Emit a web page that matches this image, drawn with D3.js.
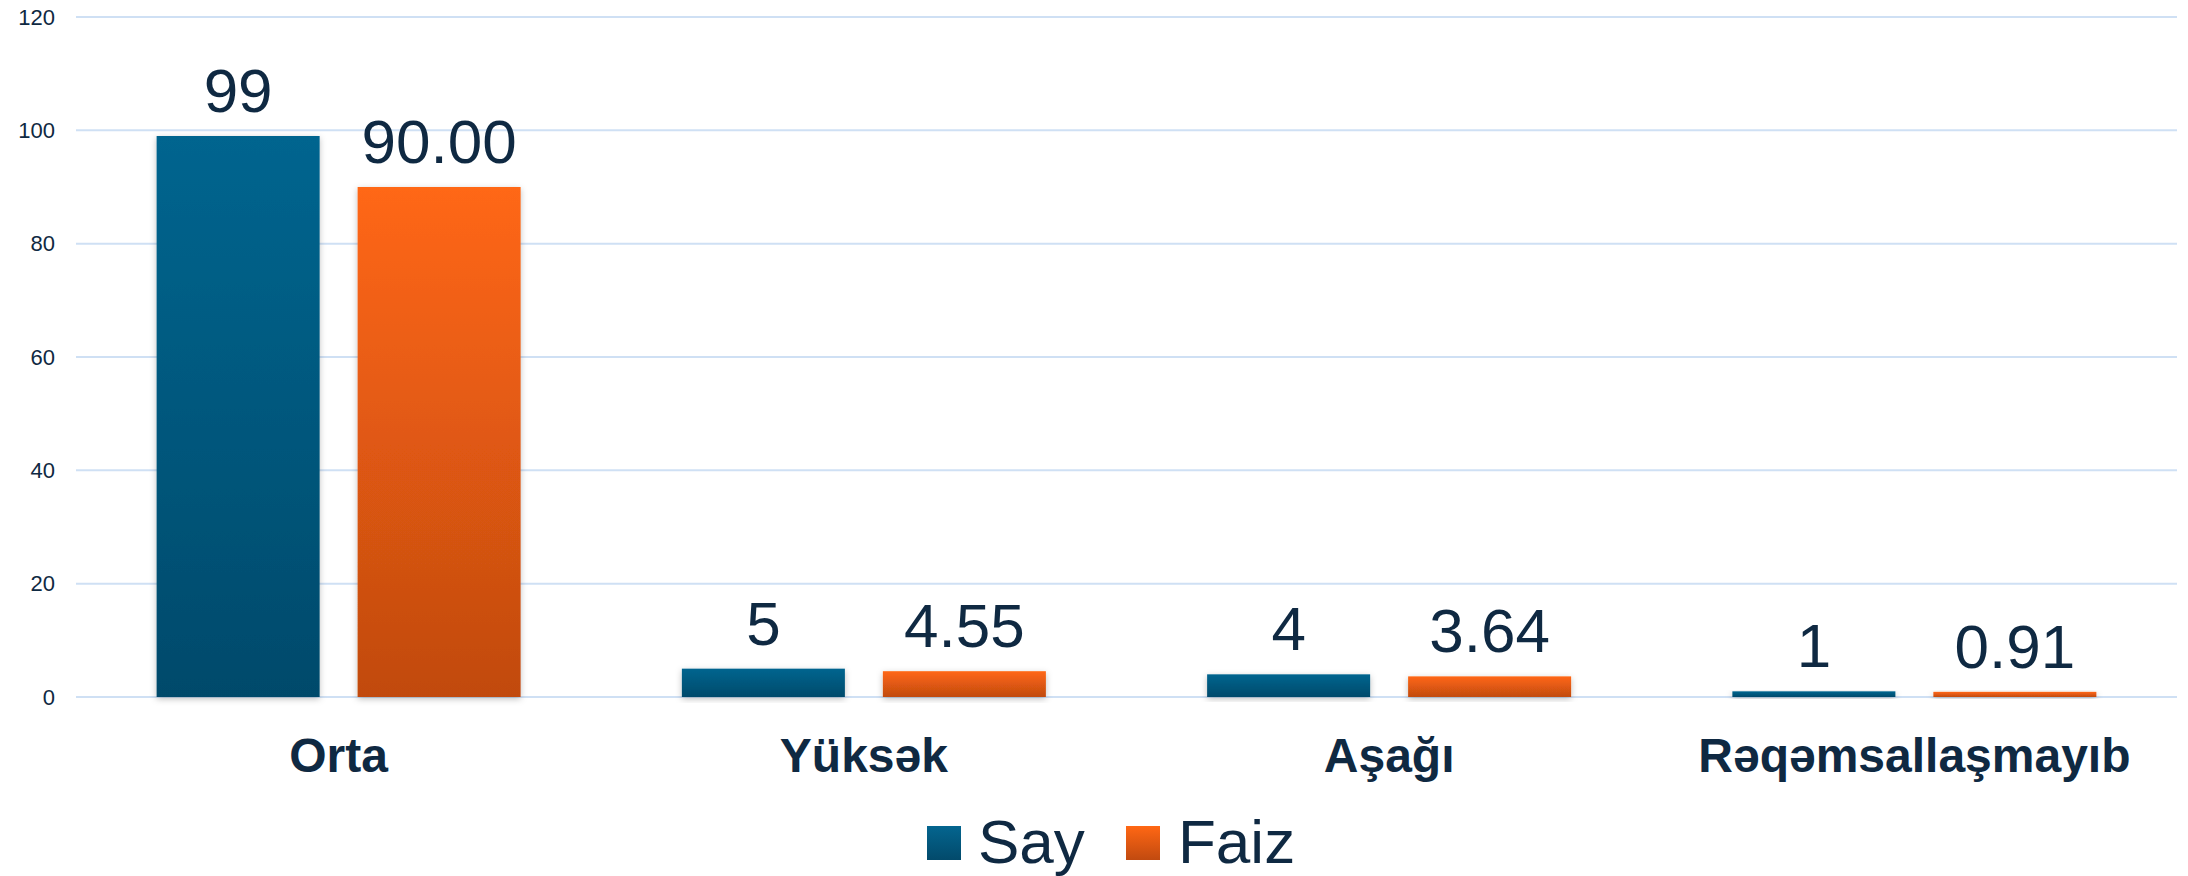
<!DOCTYPE html>
<html>
<head>
<meta charset="utf-8">
<script src="https://cdn.jsdelivr.net/npm/d3@7"></script>
<style>
  html, body { margin: 0; padding: 0; background: #ffffff; }
  svg { display: block; }
  text { font-family: "Liberation Sans", Arial, sans-serif; }
</style>
</head>
<body>
<svg id="chart" width="2188" height="876"></svg>
<script>
// ---- data ----
const categories = ["Orta", "Yüksək", "Aşağı", "Rəqəmsallaşmayıb"];
const seriesNames = ["Say", "Faiz"];
const sayValues = [99, 5, 4, 1];
const faizValues = [90.00, 4.55, 3.64, 0.91];
const faizLabels = ["90.00", "4.55", "3.64", "0.91"];
const sayLabels = ["99", "5", "4", "1"];
const yTicks = [0, 20, 40, 60, 80, 100, 120];

// ---- layout ----
const W = 2188, H = 876;
const plot = { left: 76, right: 2177, top: 17, bottom: 697 };
const textColor = "#0f2942";

const svg = d3.select("#chart");
const defs = svg.append("defs");

function grad(id, top, bottom) {
  const g = defs.append("linearGradient").attr("id", id)
    .attr("x1", 0).attr("y1", 0).attr("x2", 0).attr("y2", 1);
  g.append("stop").attr("offset", "0%").attr("stop-color", top);
  g.append("stop").attr("offset", "100%").attr("stop-color", bottom);
}
grad("g-Say", "#04658f", "#024a6b");
grad("g-Faiz", "#ff6714", "#c14a10");

const f = defs.append("filter").attr("id", "shadow")
  .attr("x", "-20%").attr("y", "-20%").attr("width", "140%").attr("height", "140%");
f.append("feDropShadow").attr("dx", 0).attr("dy", 2).attr("stdDeviation", 3)
  .attr("flood-color", "#000").attr("flood-opacity", 0.25);

const y = d3.scaleLinear().domain([0, 120]).range([plot.bottom, plot.top]);
const x0 = d3.scaleBand().domain(categories).range([plot.left, plot.right])
  .paddingInner(0.307).paddingOuter(0.1535);
const x1 = d3.scaleBand().domain(seriesNames).range([0, x0.bandwidth()])
  .paddingInner(0.189).paddingOuter(0);

// gridlines
svg.append("g").selectAll("line").data(yTicks).join("line")
  .attr("x1", plot.left).attr("x2", plot.right)
  .attr("y1", d => y(d)).attr("y2", d => y(d))
  .attr("stroke", "#cfe0f4").attr("stroke-width", 2);

// y axis labels
const yAxis = d3.axisLeft(y).tickValues(yTicks).tickSize(0).tickPadding(0);
const ya = svg.append("g").attr("transform", `translate(55,0)`).call(yAxis);
ya.select(".domain").remove();
ya.selectAll("text").attr("font-size", 22).attr("fill", textColor)
  .attr("font-family", "\"Liberation Sans\", Arial, sans-serif");

// bars
const rows = categories.map((c, i) => ({
  cat: c,
  vals: [
    { s: "Say", v: sayValues[i], label: sayLabels[i] },
    { s: "Faiz", v: faizValues[i], label: faizLabels[i] }
  ]
}));

const groups = svg.append("g").selectAll("g").data(rows).join("g")
  .attr("transform", d => `translate(${x0(d.cat)},0)`);

groups.selectAll("rect").data(d => d.vals).join("rect")
  .attr("x", d => x1(d.s))
  .attr("width", x1.bandwidth())
  .attr("y", d => y(d.v))
  .attr("height", d => y(0) - y(d.v))
  .attr("fill", d => `url(#g-${d.s})`)
  .attr("filter", "url(#shadow)");

groups.selectAll("text.val").data(d => d.vals).join("text")
  .attr("class", "val")
  .attr("x", d => x1(d.s) + x1.bandwidth() / 2)
  .attr("y", d => y(d.v) - 24)
  .attr("text-anchor", "middle")
  .attr("font-size", 62)
  .attr("fill", textColor)
  .text(d => d.label);

// category labels
const xAxis = d3.axisBottom(x0).tickSize(0).tickPadding(0);
const xa = svg.append("g").attr("transform", `translate(0,${plot.bottom})`).call(xAxis);
xa.select(".domain").remove();
xa.selectAll("text")
  .attr("dy", null)
  .attr("y", 75)
  .attr("font-size", 48)
  .attr("font-weight", "bold")
  .attr("fill", textColor)
  .attr("font-family", "\"Liberation Sans\", Arial, sans-serif");

// legend
const legendItems = [
  { s: "Say", sx: 927, tx: 978 },
  { s: "Faiz", sx: 1126, tx: 1178 }
];
const lg = svg.append("g");
lg.selectAll("rect").data(legendItems).join("rect")
  .attr("x", d => d.sx).attr("y", 826).attr("width", 34).attr("height", 34)
  .attr("fill", d => `url(#g-${d.s})`);
lg.selectAll("text").data(legendItems).join("text")
  .attr("x", d => d.tx).attr("y", 863)
  .attr("font-size", 62).attr("fill", textColor)
  .text(d => d.s);
</script>
</body>
</html>
